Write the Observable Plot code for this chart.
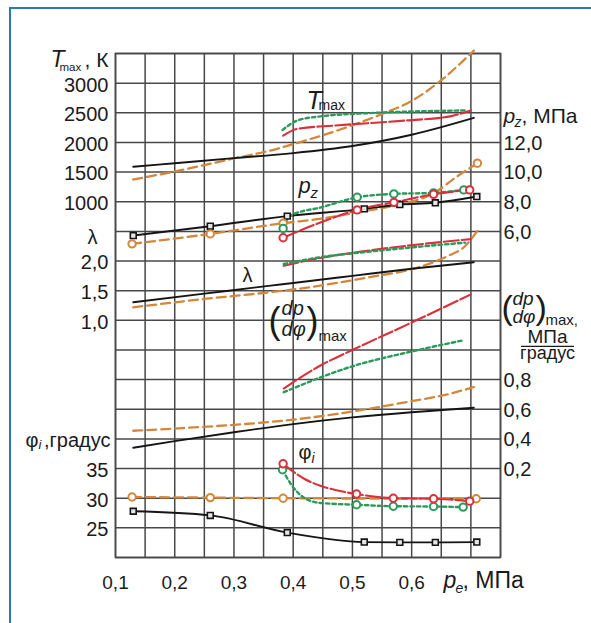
<!DOCTYPE html>
<html><head><meta charset="utf-8">
<script src="https://cdn.jsdelivr.net/npm/d3@7"></script>
<script src="https://cdn.jsdelivr.net/npm/@observablehq/plot@0.6"></script>
<style>
html,body{margin:0;padding:0;background:#fff;overflow:hidden}
#wrap{position:relative;width:591px;height:623px;overflow:hidden}
#border{position:absolute;left:9px;top:7px;width:640px;height:680px;border-left:2.5px solid #2b78b6;border-top:2.5px solid #2b78b6;pointer-events:none}
</style></head>
<body><div id="wrap"><div id="border"></div></div>
<script>
// ---------- tick labels ----------
const peTicks = [0.1, 0.2, 0.3, 0.4, 0.5, 0.6];
const tmaxTicks = [1000, 1500, 2000, 2500, 3000];
const lambdaTicks = [1.0, 1.5, 2.0];
const phiTicks = [25, 30, 35];
const pzTicks = [6, 8, 10, 12];
const dpTicks = [0.2, 0.4, 0.6, 0.8];

// ---------- T_max, K ----------
const tmaxBlackPe  = [0.13, 0.20, 0.30, 0.40, 0.50, 0.60, 0.705];
const tmaxBlack    = [1590, 1650, 1735, 1820, 1940, 2130, 2415];
const tmaxOrangePe = [0.13, 0.20, 0.30, 0.36, 0.42, 0.50, 0.55, 0.60, 0.65, 0.705];
const tmaxOrange   = [1375, 1510, 1730, 1860, 2030, 2290, 2480, 2700, 3050, 3550];
const tmaxRedPe    = [0.383, 0.407, 0.47, 0.59, 0.665, 0.70];
const tmaxRed      = [2115, 2230, 2285, 2370, 2440, 2540];
const tmaxGreenPe  = [0.382, 0.407, 0.446, 0.53, 0.694];
const tmaxGreen    = [2210, 2370, 2440, 2495, 2540];

// ---------- p_z, MPa ----------
const pzBlackPe  = [0.13, 0.26, 0.39, 0.52, 0.58, 0.64, 0.71];
const pzBlack    = [5.72, 6.35, 7.03, 7.52, 7.81, 7.93, 8.35];
const pzOrangePe = [0.128, 0.26, 0.383, 0.45, 0.51, 0.57, 0.64, 0.675, 0.711];
const pzOrange   = [5.16, 5.83, 6.55, 6.87, 7.30, 7.74, 8.64, 9.66, 10.6];
const pzOrangeMarkPe = [0.128, 0.26, 0.383, 0.711];
const pzOrangeMark   = [5.16, 5.83, 6.55, 10.6];
const pzRedPe    = [0.383, 0.446, 0.508, 0.57, 0.637, 0.698];
const pzRed      = [5.57, 6.60, 7.45, 7.96, 8.50, 8.80];
const pzRedMarkPe = [0.383, 0.508, 0.57, 0.637, 0.698];
const pzRedMark   = [5.57, 7.45, 7.96, 8.50, 8.80];
const pzGreenPe  = [0.383, 0.395, 0.45, 0.508, 0.57, 0.637, 0.688];
const pzGreen    = [6.20, 7.05, 7.65, 8.30, 8.53, 8.60, 8.80];
const pzGreenMarkPe = [0.383, 0.508, 0.57, 0.637, 0.688];
const pzGreenMark   = [6.20, 8.30, 8.53, 8.60, 8.80];

// ---------- lambda ----------
const lamBlackPe  = [0.13, 0.25, 0.362, 0.40, 0.50, 0.60, 0.705];
const lamBlack    = [1.305, 1.45, 1.585, 1.63, 1.75, 1.87, 1.98];
const lamOrangePe = [0.13, 0.25, 0.362, 0.40, 0.53, 0.61, 0.66, 0.69, 0.711];
const lamOrange   = [1.22, 1.36, 1.475, 1.52, 1.73, 1.89, 2.08, 2.25, 2.51];
const lamRedPe    = [0.384, 0.45, 0.53, 0.70];
const lamRed      = [1.92, 2.06, 2.18, 2.37];
const lamGreenPe  = [0.384, 0.45, 0.53, 0.69];
const lamGreen    = [1.95, 2.07, 2.16, 2.31];

// ---------- (dp/dphi)max, MPa/deg ----------
const dpBlackPe  = [0.13, 0.20, 0.30, 0.40, 0.50, 0.60, 0.705];
const dpBlack    = [0.34, 0.385, 0.445, 0.50, 0.545, 0.58, 0.61];
const dpOrangePe = [0.13, 0.20, 0.30, 0.40, 0.50, 0.60, 0.66, 0.705];
const dpOrange   = [0.455, 0.47, 0.495, 0.53, 0.585, 0.655, 0.70, 0.75];
const dpRedPe    = [0.384, 0.446, 0.50, 0.60, 0.70];
const dpRed      = [0.74, 0.895, 1.00, 1.185, 1.375];
const dpGreenPe  = [0.384, 0.50, 0.60, 0.687];
const dpGreen    = [0.715, 0.89, 0.99, 1.065];

// ---------- phi_i, deg ----------
const phiBlackPe  = [0.13, 0.26, 0.39, 0.52, 0.58, 0.64, 0.71];
const phiBlack    = [27.8, 27.1, 24.2, 22.6, 22.55, 22.55, 22.6];
const phiOrangePe = [0.128, 0.26, 0.383, 0.709];
const phiOrange   = [30.2, 30.1, 30.0, 29.9];
const phiRedPe    = [0.383, 0.42, 0.446, 0.475, 0.507, 0.569, 0.637, 0.698];
const phiRed      = [35.8, 33.2, 32.1, 31.3, 30.7, 30.0, 29.9, 29.5];
const phiRedMarkPe = [0.383, 0.507, 0.569, 0.637, 0.698];
const phiRedMark   = [35.8, 30.7, 30.0, 29.9, 29.5];
const phiGreenPe  = [0.382, 0.396, 0.418, 0.446, 0.507, 0.569, 0.637, 0.687];
const phiGreen    = [34.8, 32.4, 30.1, 29.2, 28.9, 28.65, 28.6, 28.5];
const phiGreenMarkPe = [0.382, 0.507, 0.569, 0.637, 0.687];
const phiGreenMark   = [34.8, 28.9, 28.65, 28.6, 28.5];

// ---------- each quantity's own scale on the shared 17-row grid ----------
const rowT   = v => 12 + (v - 1000) / 500;
const rowL   = v => 8 + (v - 1) / 0.5;
const rowPhi = v => 1 + (v - 25) / 5;
const rowPz  = v => 11 + (v - 6) / 2;
const rowDp  = v => 3 + (v - 0.2) / 0.2;
const comma = (v, d) => v.toFixed(d).replace(".", ",");

const leftTicks = [
  ...tmaxTicks.map(v => ({row: rowT(v), label: String(v)})),
  ...lambdaTicks.map(v => ({row: rowL(v), label: comma(v, 1)})),
  ...phiTicks.map(v => ({row: rowPhi(v), label: String(v)}))
];
const rightTicks = [
  ...pzTicks.map(v => ({row: rowPz(v), label: comma(v, 1)})),
  ...dpTicks.map(v => ({row: rowDp(v), label: comma(v, 1)}))
];
const findLabel = (list) => r => (list.find(d => Math.abs(d.row - r) < 1e-6) || {label: ""}).label;

const xGrid = d3.range(0, 14).map(i => +(0.1 + i * 0.05).toFixed(2));
const yGrid = d3.range(0, 18);

const ink = "#1b1b1b", gridC = "#484848";
const C = {black: "#151515", orange: "#d4873b", red: "#d8313b", green: "#2a9a5b"};
const LS = {
  black:  {stroke: C.black, strokeWidth: 1.9},
  orange: {stroke: C.orange, strokeWidth: 2.3, strokeDasharray: "9,5"},
  red:    {stroke: C.red, strokeWidth: 2.1, strokeDasharray: "15,3"},
  green:  {stroke: C.green, strokeWidth: 2.4, strokeDasharray: "3.5,3"}
};
const pts = (pe, v, f) => pe.map((p, i) => ({pe: p, row: f(v[i])}));
const line = (pe, v, f, k) => Plot.line(pts(pe, v, f), {x: "pe", y: "row", curve: "monotone-x", ...LS[k]});
const ring = (pe, v, f, k) => Plot.dot(pts(pe, v, f), {x: "pe", y: "row", r: 3.7, stroke: C[k], strokeWidth: 2, fill: "#fff"});
const box = (pe, v, f) => Plot.dot(pts(pe, v, f), {x: "pe", y: "row", symbol: "square", r: 3.3, stroke: C.black, strokeWidth: 1.6, fill: "#e6e6e6"});
const T = (text, x, y, o = {}) => Plot.text([text], {
  x: () => x, y: () => y, text: d => d,
  dx: o.dx || 0, dy: o.dy || 0, fontSize: o.size || 20,
  fontStyle: o.italic ? "italic" : "normal",
  textAnchor: o.anchor || "start", lineAnchor: "bottom", fill: ink
});

const chart = Plot.plot({
  width: 591, height: 623,
  marginLeft: 115, marginRight: 91, marginTop: 53, marginBottom: 66,
  x: {domain: [0.1, 0.75], axis: null, label: null},
  y: {domain: [0, 17], axis: null, label: null},
  style: {fontFamily: "'Liberation Sans', Arial, Helvetica, sans-serif", background: "transparent", color: ink, overflow: "visible"},
  marks: [
    Plot.gridX(xGrid, {stroke: gridC, strokeOpacity: 1, strokeWidth: 1.5}),
    Plot.gridY(yGrid, {stroke: gridC, strokeOpacity: 1, strokeWidth: 1.5}),
    Plot.frame({stroke: gridC, strokeWidth: 1.6}),
    Plot.axisX(peTicks, {tickSize: 0, tickPadding: 18, fontSize: 19, label: null, tickFormat: v => comma(v, 1)}),
    Plot.axisY(leftTicks.map(d => d.row), {anchor: "left", tickSize: 0, tickPadding: 7, fontSize: 20, dy: 2, label: null, tickFormat: findLabel(leftTicks)}),
    Plot.axisY(rightTicks.map(d => d.row), {anchor: "right", tickSize: 0, tickPadding: 3, fontSize: 20, dy: 1, label: null, tickFormat: findLabel(rightTicks)}),

    // T_max
    line(tmaxOrangePe, tmaxOrange, rowT, "orange"),
    line(tmaxBlackPe, tmaxBlack, rowT, "black"),
    line(tmaxRedPe, tmaxRed, rowT, "red"),
    line(tmaxGreenPe, tmaxGreen, rowT, "green"),
    // p_z
    line(pzOrangePe, pzOrange, rowPz, "orange"),
    line(pzBlackPe, pzBlack, rowPz, "black"),
    line(pzGreenPe, pzGreen, rowPz, "green"),
    line(pzRedPe, pzRed, rowPz, "red"),
    // lambda
    line(lamOrangePe, lamOrange, rowL, "orange"),
    line(lamBlackPe, lamBlack, rowL, "black"),
    line(lamRedPe, lamRed, rowL, "red"),
    line(lamGreenPe, lamGreen, rowL, "green"),
    // dp/dphi
    line(dpOrangePe, dpOrange, rowDp, "orange"),
    line(dpBlackPe, dpBlack, rowDp, "black"),
    line(dpRedPe, dpRed, rowDp, "red"),
    line(dpGreenPe, dpGreen, rowDp, "green"),
    // phi_i
    line(phiOrangePe, phiOrange, rowPhi, "orange"),
    line(phiBlackPe, phiBlack, rowPhi, "black"),
    line(phiGreenPe, phiGreen, rowPhi, "green"),
    line(phiRedPe, phiRed, rowPhi, "red"),

    // markers
    box(pzBlackPe, pzBlack, rowPz),
    ring(pzOrangeMarkPe, pzOrangeMark, rowPz, "orange"),
    ring(pzGreenMarkPe, pzGreenMark, rowPz, "green"),
    ring(pzRedMarkPe, pzRedMark, rowPz, "red"),
    box(phiBlackPe, phiBlack, rowPhi),
    ring(phiOrangePe, phiOrange, rowPhi, "orange"),
    ring(phiGreenMarkPe, phiGreenMark, rowPhi, "green"),
    ring(phiRedMarkPe, phiRedMark, rowPhi, "red"),

    // left titles
    T("T", 0.1, 16.53, {dx: -65, size: 23, italic: true}),
    T("max", 0.1, 16.53, {dx: -56, dy: 4, size: 11.5}),
    T(", К", 0.1, 16.53, {dx: -7, size: 21, anchor: "end"}),
    T("λ", 0.1, 10.59, {dx: -28, size: 20}),
    T("φ", 0.1, 3.727, {dx: -90, size: 20}),
    T("i", 0.1, 3.727, {dx: -77, dy: 2, size: 13, italic: true}),
    T(",градус", 0.1, 3.727, {dx: -5, size: 20, anchor: "end"}),
    // right titles
    T("p", 0.75, 14.64, {dx: 3, size: 21, italic: true}),
    T("z", 0.75, 14.64, {dx: 14, dy: 4, size: 14, italic: true}),
    T(", МПа", 0.75, 14.64, {dx: 21, size: 21}),
    T("(", 0.75, 8.06, {dx: 1, size: 34}),
    T("dp", 0.75, 8.06, {dx: 12, dy: -14, size: 19, italic: true}),
    T("dφ", 0.75, 8.06, {dx: 12, dy: 4, size: 19, italic: true}),
    T(")", 0.75, 8.06, {dx: 35, size: 34}),
    T("max,", 0.75, 8.06, {dx: 45, dy: 6, size: 15}),
    T("МПа", 0.8294, 7.25, {size: 19, anchor: "middle"}),
    Plot.ruleY([7.12], {x1: () => 0.7855, x2: () => 0.8749, stroke: ink, strokeWidth: 1.3}),
    T("градус", 0.8294, 6.70, {size: 18, anchor: "middle"}),
    // in-plot labels
    T("T", 0.4225, 15.14, {size: 25, italic: true}),
    T("max", 0.4225, 15.14, {dx: 12, dy: 1, size: 14}),
    T("p", 0.409, 12.28, {size: 22, italic: true}),
    T("z", 0.409, 12.28, {dx: 12, dy: 5, size: 15, italic: true}),
    T("λ", 0.3144, 9.276, {size: 20}),
    T("(", 0.3617, 7.58, {dx: -2, size: 36}),
    T("dp", 0.3617, 7.58, {dx: 11, dy: -18, size: 20, italic: true}),
    T("dφ", 0.3617, 7.58, {dx: 11, dy: 3, size: 20, italic: true}),
    T(")", 0.3617, 7.58, {dx: 36, size: 36}),
    T("max", 0.3617, 7.58, {dx: 48, dy: 8, size: 15}),
    T("φ", 0.409, 3.306, {size: 20}),
    T("i", 0.409, 3.306, {dx: 13, dy: 4, size: 14, italic: true}),
    // x title
    T("p", 0.6538, -1.012, {size: 23, italic: true}),
    T("e", 0.6538, -1.012, {dx: 12, dy: 5, size: 14, italic: true}),
    T(", МПа", 0.6538, -1.012, {dx: 19, size: 23})
  ]
});
document.getElementById("wrap").prepend(chart);
</script>
</body></html>
